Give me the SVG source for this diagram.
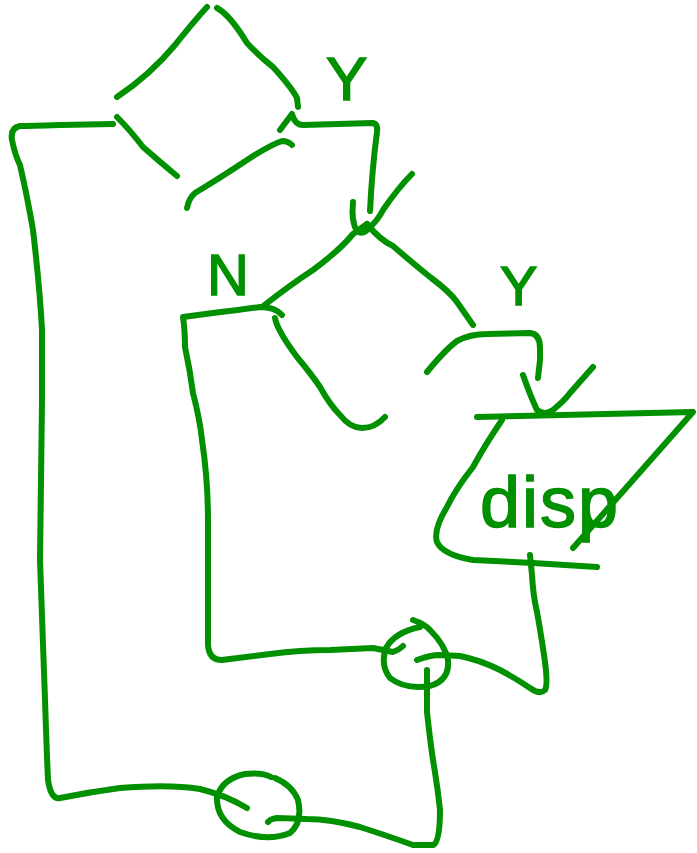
<svg xmlns="http://www.w3.org/2000/svg" width="697" height="853" viewBox="0 0 697 853">
<style>
.s{fill:none;stroke:#009000;stroke-width:6;stroke-linecap:round;stroke-linejoin:round}
.t{fill:#009000;stroke:#009000;stroke-width:1.5;font-family:"Liberation Sans","DejaVu Sans",sans-serif}
</style>
<rect width="697" height="853" fill="#ffffff"/>
<g id="decision-outer">
<path class="s" d="M117,97 Q150,75 175,45 Q195,20 207,7"/>
<path class="s" d="M217,8 Q230,15 247,43 Q260,57 273,67 Q292,88 297,98 L298,107"/>
<path class="s" d="M117,117 Q130,130 143,147 Q160,162 177,176"/>
<path class="s" d="M187,208 Q189,198 195,193 Q220,178 247,160 Q270,145 282,141 Q288,141 292,145"/>
</g>
<g id="decision-inner">
<path class="s" d="M367,224 Q380,240 393,246 Q415,265 430,277 Q450,292 457,302 L473,325"/>
<path class="s" d="M275,318 Q277,330 297,357 Q312,375 320,387 Q330,405 340,415 Q350,428 362,428 Q375,428 385,417"/>
</g>
<g id="display">
<path class="s" d="M477,417 L693,412 L573,548"/>
<path class="s" d="M502,420 Q485,445 473,467 Q455,490 447,507 Q433,530 437,542 Q443,555 473,560 L533,563 L597,567"/>
<text class="t" x="480" y="527" font-size="72" textLength="138">disp</text>
</g>
<g id="junction-inner">
<path class="s" d="M413,620 Q425,624 430,630 Q445,645 448,660 Q450,680 430,686 Q405,690 390,678 Q380,665 386,648 Q395,632 420,627"/>
</g>
<g id="junction-outer">
<path class="s" d="M271,777 Q262,772 245,774 Q222,779 217,797 Q216,820 240,832 Q268,842 290,833 Q303,822 298,800 Q292,785 275,778"/>
</g>
<g id="connectors">
<path class="s" d="M113,124 L60,125 Q30,126 20,126 Q10,128 12,140 Q15,155 20,165 Q28,200 33,230 Q40,290 42,330 L42,400 Q41,480 40,560 Q43,650 45,700 Q47,760 48,780 Q51,800 60,798 Q90,792 120,788 Q170,784 200,789 Q225,795 247,808"/>
<path class="s" d="M280,130 L292,114 Q295,125 303,125 L373,123 Q378,124 377,132 Q372,170 370,211"/>
<path class="s" d="M353,202 Q351,222 357,231 Q363,236 370,227 Q378,220 383,210 Q398,188 412,174"/>
<path class="s" d="M262,307 Q290,285 313,270 Q340,250 353,234 L367,224"/>
<path class="s" d="M282,315 Q275,307 260,307 Q240,310 213,313 L183,317 Q185,330 185,347 Q190,370 193,393 Q200,420 202,440 Q208,480 208,520 L208,600 L208,645 Q209,660 222,660 L270,654 Q300,650 330,650 L373,648 L393,652 Q399,650 403,646"/>
<path class="s" d="M427,372 Q445,350 457,341 Q470,334 487,334 L530,333 Q540,334 540,348 L540,360 L538,378"/>
<path class="s" d="M523,375 Q530,395 537,410 Q545,416 553,410 Q565,400 570,393 L593,367"/>
<path class="s" d="M530,555 L532,575 Q533,595 537,612 Q542,640 545,662 Q548,685 545,690 Q540,695 530,688 Q515,678 500,670 Q480,660 460,656 L440,655 Q430,655 417,660"/>
<path class="s" d="M427,670 L427,712 Q430,740 433,760 Q438,790 440,810 Q440,843 433,845 L413,845 Q385,835 360,827 Q330,819 307,819 L277,818 Q270,819 268,822"/>
</g>
<g id="labels">
<text class="t" x="326" y="100" font-size="62">Y</text>
<text class="t" x="207" y="295" font-size="58" textLength="62">N</text>
<text class="t" x="500" y="305" font-size="56">Y</text>
</g>
</svg>
